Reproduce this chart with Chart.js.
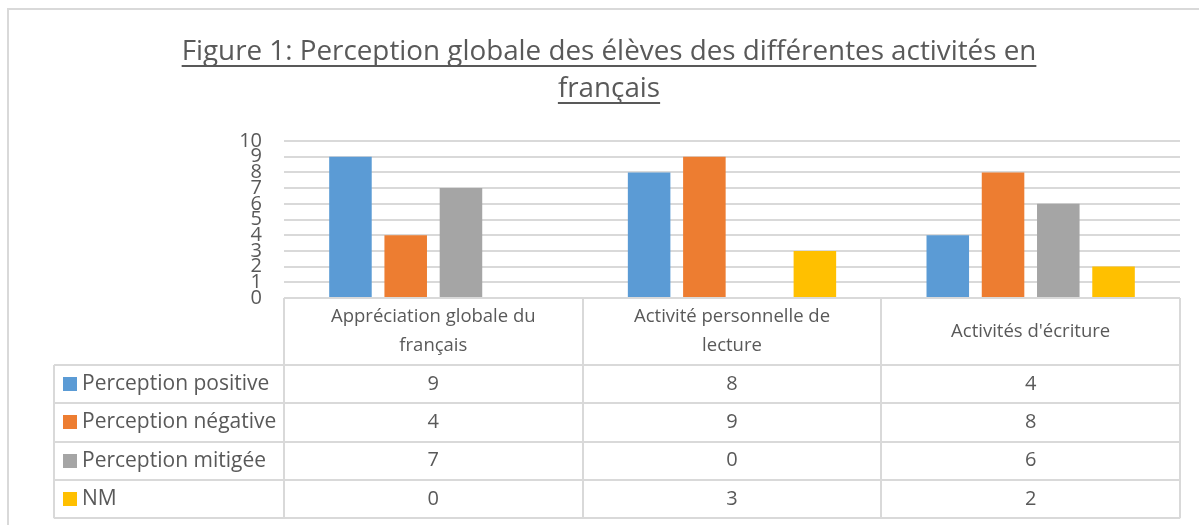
<!DOCTYPE html>
<html>
<head>
<meta charset="utf-8">
<script src="https://cdn.jsdelivr.net/npm/chart.js@4.4.0/dist/chart.umd.min.js"></script>
<style>
  html, body { margin: 0; padding: 0; background: #fff; }
</style>
</head>
<body>
<canvas id="chart" width="1199" height="525"></canvas>
<script>
// data
const categories = [['Appréciation globale du', 'français'], ['Activité personnelle de', 'lecture'], ["Activités d'écriture"]];
const seriesNames = ['Perception positive', 'Perception négative', 'Perception mitigée', 'NM'];
const positive = [9, 8, 4];
const negative = [4, 9, 8];
const mitigee = [7, 0, 6];
const nm = [0, 3, 2];
const yTicks = [0, 1, 2, 3, 4, 5, 6, 7, 8, 9, 10];
const titleLines = ['Figure 1: Perception globale des élèves des différentes activités en', 'français'];

const colors = ['#5B9BD5', '#ED7D31', '#A5A5A5', '#FFC000'];
const textColor = '#595959';
const lineColor = '#d9d9d9';
const FONT = '"Open Sans", "DejaVu Sans", sans-serif';

const allSeries = [positive, negative, mitigee, nm];

// draws the title, the outer frame and the data table under the plot
const tablePlugin = {
  id: 'tablePlugin',
  afterDraw(chart) {
    const ctx = chart.ctx;
    const area = chart.chartArea;
    const x = chart.scales.x;
    const colW = (area.right - area.left) / categories.length;
    ctx.save();

    // outer frame
    ctx.strokeStyle = lineColor;
    ctx.lineWidth = 2;
    ctx.beginPath();
    ctx.moveTo(8, 530);
    ctx.lineTo(8, 9);
    ctx.lineTo(1205, 9);
    ctx.stroke();

    // title, underlined
    ctx.fillStyle = textColor;
    ctx.font = '27.8px ' + FONT;
    ctx.textAlign = 'center';
    ctx.textBaseline = 'alphabetic';
    const tx = 609;
    const baselines = [60, 97];
    titleLines.forEach((line, i) => {
      ctx.fillText(line, tx, baselines[i]);
      const w = ctx.measureText(line).width;
      ctx.fillRect(tx - w / 2, baselines[i] + 5, w, 2);
    });

    // table grid
    const top = area.bottom;
    const headerBottom = top + 67;
    const rowH = 38.3;
    const bottom = headerBottom + rowH * seriesNames.length;
    const labelLeft = 54;
    ctx.strokeStyle = lineColor;
    ctx.lineWidth = 2;
    ctx.beginPath();
    ctx.moveTo(area.left, top);
    ctx.lineTo(area.right, top);
    for (let r = 0; r <= seriesNames.length; r++) {
      const yy = Math.round(headerBottom + r * rowH);
      ctx.moveTo(labelLeft, yy);
      ctx.lineTo(area.right, yy);
    }
    for (let c = 0; c <= categories.length; c++) {
      const xx = Math.round(area.left + c * colW);
      ctx.moveTo(xx, top);
      ctx.lineTo(xx, bottom);
    }
    ctx.moveTo(labelLeft, headerBottom);
    ctx.lineTo(labelLeft, bottom);
    ctx.stroke();

    // header cells
    ctx.fillStyle = textColor;
    ctx.font = '18.5px ' + FONT;
    ctx.textAlign = 'center';
    ctx.textBaseline = 'middle';
    categories.forEach((lines, i) => {
      const cx = x.getPixelForValue(i);
      const mid = (top + headerBottom) / 2;
      lines.forEach((l, j) => {
        ctx.fillText(l, cx, mid + (j - (lines.length - 1) / 2) * 29);
      });
    });

    // rows
    seriesNames.forEach((name, r) => {
      const cy = headerBottom + r * rowH + rowH / 2;
      ctx.fillStyle = colors[r];
      ctx.fillRect(63, Math.round(cy - 7), 14, 14);
      ctx.fillStyle = textColor;
      ctx.font = '21px ' + FONT;
      ctx.textAlign = 'left';
      ctx.fillText(name, 82, cy);
      ctx.font = '20px ' + FONT;
      ctx.textAlign = 'center';
      allSeries[r].forEach((v, i) => {
        ctx.fillText(String(v), x.getPixelForValue(i), cy);
      });
    });

    ctx.restore();
  }
};

new Chart(document.getElementById('chart'), {
  type: 'bar',
  data: {
    labels: categories,
    datasets: seriesNames.map((name, i) => ({
      label: name,
      data: allSeries[i],
      backgroundColor: colors[i],
      borderWidth: 0,
      barPercentage: 0.77,
      categoryPercentage: 0.74
    }))
  },
  options: {
    responsive: false,
    animation: false,
    layout: { padding: { left: 0, right: 19, top: 141, bottom: 227 } },
    plugins: {
      legend: { display: false },
      title: { display: false },
      tooltip: { enabled: false }
    },
    scales: {
      x: {
        display: false
      },
      y: {
        min: 0,
        max: 10,
        afterBuildTicks(scale) {
          scale.ticks = yTicks.map(v => ({ value: v }));
        },
        afterFit(scale) {
          scale.width = 284;
        },
        ticks: {
          autoSkip: false,
          padding: 22,
          color: textColor,
          font: { family: FONT, size: 20 }
        },
        grid: { color: lineColor, lineWidth: 2, drawTicks: false },
        border: { display: false }
      }
    }
  },
  plugins: [tablePlugin]
});
</script>
</body>
</html>
